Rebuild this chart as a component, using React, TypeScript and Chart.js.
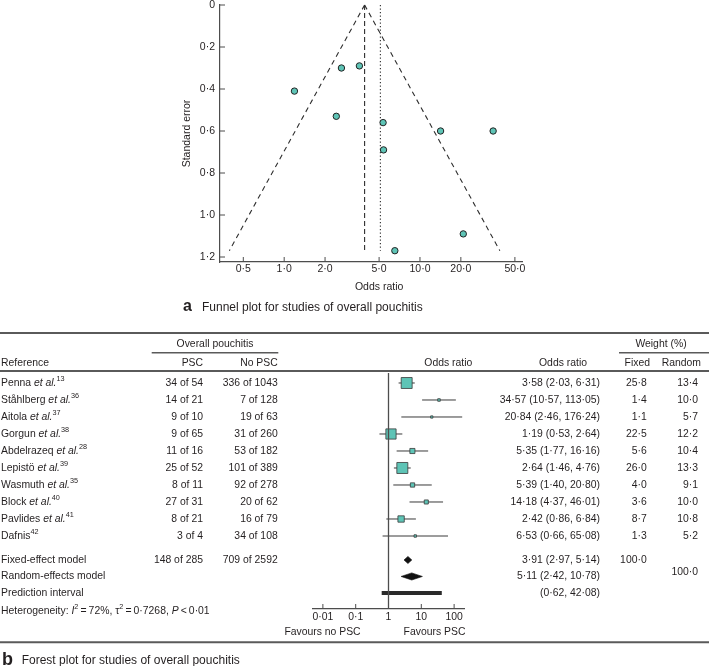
import React, { useEffect, useRef } from 'react';
import { Chart, registerables } from 'chart.js';

Chart.register(...registerables);

const FONT = '"Liberation Sans", Arial, Helvetica, sans-serif';
const TEXT = '#231f20';
const LINE = '#4d4d4d';
const TEAL = '#5ec4b6';
const FS = 10.4;

// ---------- data ----------
const studyAuthors = ['Penna', 'Ståhlberg', 'Aitola', 'Gorgun', 'Abdelrazeq', 'Lepistö', 'Wasmuth', 'Block', 'Pavlides', 'Dafnis'];
const studyHasEtAl = [true, true, true, true, true, true, true, true, true, false];
const studyRefs = ['13', '36', '37', '38', '28', '39', '35', '40', '41', '42'];
const pscEvents = [34, 14, 9, 9, 11, 25, 8, 27, 8, 3];
const pscTotal = [54, 21, 10, 65, 16, 52, 11, 31, 21, 4];
const noPscEvents = [336, 7, 19, 31, 53, 101, 92, 20, 16, 34];
const noPscTotal = [1043, 128, 63, 260, 182, 389, 278, 62, 79, 108];
const oddsRatio = [3.58, 34.57, 20.84, 1.19, 5.35, 2.64, 5.39, 14.18, 2.42, 6.53];
const ciLower = [2.03, 10.57, 2.46, 0.53, 1.77, 1.46, 1.40, 4.37, 0.86, 0.66];
const ciUpper = [6.31, 113.05, 176.24, 2.64, 16.16, 4.76, 20.80, 46.01, 6.84, 65.08];
const weightFixed = [25.8, 1.4, 1.1, 22.5, 5.6, 26.0, 4.0, 3.6, 8.7, 1.3];
const weightRandom = [13.4, 10.0, 5.7, 12.2, 10.4, 13.3, 9.1, 10.0, 10.8, 5.2];
const standardError = [0.29, 0.60, 1.09, 0.41, 0.56, 0.30, 0.69, 0.60, 0.53, 1.17];

const fixedEffect = [3.91, 2.97, 5.14];
const randomEffect = [5.11, 2.42, 10.78];
const predictionInterval = [0.62, 42.08];
const totalPsc = [148, 285];
const totalNoPsc = [709, 2592];
const heterogeneityI2 = 72;
const heterogeneityTau2 = 0.7268;

const funnelXTicks = [0.5, 1, 2, 5, 10, 20, 50];
const funnelYTicks = [0, 0.2, 0.4, 0.6, 0.8, 1.0, 1.2];
const forestXTicks = [0.01, 0.1, 1, 10, 100];

// ---------- helpers ----------
const fmt = (v: number, d: number) => v.toFixed(d).replace('.', '\u00b7');
const Z = 1.96;

type Part = { t: string; i?: boolean; sup?: boolean; b?: boolean };
function drawRich(ctx: CanvasRenderingContext2D, x: number, y: number, parts: Part[], size: number, align = 'left') {
  const fontFor = (p: Part) => `${p.i ? 'italic ' : ''}${p.b ? 'bold ' : ''}${p.sup ? size * 0.7 : size}px ${FONT}`;
  let w = 0;
  parts.forEach((p) => { ctx.font = fontFor(p); w += ctx.measureText(p.t).width; });
  let cx = align === 'right' ? x - w : align === 'center' ? x - w / 2 : x;
  ctx.textAlign = 'left';
  ctx.textBaseline = 'middle';
  parts.forEach((p) => {
    ctx.font = fontFor(p);
    ctx.fillText(p.t, cx, p.sup ? y - size * 0.36 : y);
    cx += ctx.measureText(p.t).width;
  });
}
function txt(ctx: CanvasRenderingContext2D, s: string, x: number, y: number, align: CanvasTextAlign, size = FS) {
  ctx.font = `${size}px ${FONT}`;
  ctx.textAlign = align;
  ctx.textBaseline = 'middle';
  ctx.fillText(s, x, y);
}
function hline(ctx: CanvasRenderingContext2D, x1: number, x2: number, y: number, w: number) {
  ctx.lineWidth = w;
  ctx.beginPath();
  ctx.moveTo(x1, y);
  ctx.lineTo(x2, y);
  ctx.stroke();
}

// ---------- funnel plot ----------
const funnelXLabel = (v: number) => fmt(v, 1);
const funnelYLabel = (v: number) => (v === 0 ? '0' : fmt(v, 1));

const funnelDecor = {
  id: 'funnelDecor',
  afterDraw(chart: any) {
    const { ctx, chartArea: a, scales: { x, y } } = chart;
    ctx.save();
    ctx.strokeStyle = LINE;
    ctx.lineWidth = 1;
    ctx.beginPath();
    funnelXTicks.forEach((v) => {
      const px = x.getPixelForValue(v);
      ctx.moveTo(px, a.bottom);
      ctx.lineTo(px, a.bottom - 5);
    });
    funnelYTicks.forEach((v) => {
      const py = y.getPixelForValue(v);
      ctx.moveTo(a.left, py);
      ctx.lineTo(a.left + 5, py);
    });
    ctx.stroke();
    ctx.fillStyle = TEXT;
    funnelXTicks.forEach((v) => txt(ctx, funnelXLabel(v), x.getPixelForValue(v), a.bottom + 7.5, 'center', 10.5));
    funnelYTicks.forEach((v) => txt(ctx, funnelYLabel(v), a.left - 5, y.getPixelForValue(v), 'right', 10.5));
    const cx = (x.getPixelForValue(funnelXTicks[0]) + x.getPixelForValue(funnelXTicks[funnelXTicks.length - 1])) / 2;
    txt(ctx, 'Odds ratio', cx, 287, 'center', 10.5);
    ctx.textAlign = 'left';
    ctx.textBaseline = 'alphabetic';
    ctx.font = `bold 16px ${FONT}`;
    ctx.fillText('a', 183, 310.5);
    ctx.font = `12px ${FONT}`;
    ctx.fillText('Funnel plot for studies of overall pouchitis', 202, 310.5);
    ctx.restore();
  },
};

function funnelConfig(): any {
  const seMax = Math.max(...standardError);
  const est = fixedEffect[0];
  const lineDs = (data: any[], dash: number[]) => ({
    data, showLine: true, pointRadius: 0, borderColor: '#2e2e2e', borderWidth: 1.1, borderDash: dash, fill: false, clip: false,
  });
  return {
    type: 'scatter',
    data: {
      datasets: [
        {
          data: oddsRatio.map((v, i) => ({ x: v, y: standardError[i] })),
          pointRadius: 3.2, backgroundColor: TEAL, borderColor: '#222', borderWidth: 1, clip: false,
        },
        lineDs([{ x: est, y: 0 }, { x: est * Math.exp(-Z * seMax), y: seMax }], [5, 4]),
        lineDs([{ x: est, y: 0 }, { x: est * Math.exp(Z * seMax), y: seMax }], [5, 4]),
        lineDs([{ x: est, y: 0 }, { x: est, y: seMax }], [5, 3]),
        lineDs([{ x: randomEffect[0], y: 0 }, { x: randomEffect[0], y: seMax }], [1.3, 2.2]),
      ],
    },
    options: {
      animation: false,
      responsive: false,
      maintainAspectRatio: false,
      layout: { autoPadding: false, padding: { left: 170, right: 187, top: 5, bottom: 0 } },
      plugins: { legend: { display: false }, tooltip: { enabled: false } },
      scales: {
        x: {
          type: 'logarithmic',
          bounds: 'data',
          min: 0.3368,
          max: 56.4,
          afterBuildTicks: (s: any) => { s.ticks = funnelXTicks.map((v) => ({ value: v })); },
          afterFit: (s: any) => { s.height = 56; },
          ticks: { display: false, autoSkip: false, maxRotation: 0 },
          grid: { display: false, drawTicks: false },
          border: { display: true, color: LINE, width: 1.2 },
        },
        y: {
          type: 'linear',
          bounds: 'data',
          reverse: true,
          min: 0,
          max: 1.2238,
          afterBuildTicks: (s: any) => { s.ticks = funnelYTicks.map((v) => ({ value: v })); },
          afterFit: (s: any) => { s.width = 50; },
          ticks: { display: false },
          grid: { display: false, drawTicks: false },
          border: { display: true, color: LINE, width: 1.2 },
          title: {
            display: true, text: 'Standard error', color: TEXT,
            font: { family: FONT, size: 10.5 }, padding: { top: 11, bottom: 0 },
          },
        },
      },
    },
    plugins: [funnelDecor],
  };
}

// ---------- forest plot ----------
// layout rows (y-scale units: one study row each)
const ROW_FIXED = 10.41;
const ROW_RANDOM = 11.38;
const ROW_PRED = 12.35;
const ROW_HET = 13.41;
const DIAMOND_H = 0.21;

const forestDecor = {
  id: 'forestDecor',
  afterDraw(chart: any) {
    const { ctx, chartArea: a, scales: { x, y } } = chart;
    const Y = (r: number) => y.getPixelForValue(r);
    const W = chart.width;
    ctx.save();
    // rules
    ctx.strokeStyle = '#5a5a5a';
    hline(ctx, 0, W, 13, 2);
    hline(ctx, 151.7, 278.3, 32.7, 1.4);
    hline(ctx, 619, W, 32.7, 1.4);
    hline(ctx, 0, W, 51, 2);
    hline(ctx, 0, W, 322.3, 2);
    // null line
    ctx.strokeStyle = LINE;
    ctx.lineWidth = 1.3;
    const x1 = x.getPixelForValue(1);
    ctx.beginPath();
    ctx.moveTo(x1, a.top);
    ctx.lineTo(x1, a.bottom);
    ctx.stroke();
    // inward ticks
    ctx.lineWidth = 1;
    ctx.beginPath();
    forestXTicks.forEach((v) => {
      const px = x.getPixelForValue(v);
      ctx.moveTo(px, a.bottom);
      ctx.lineTo(px, a.bottom - 5);
    });
    ctx.stroke();

    ctx.fillStyle = TEXT;
    // headers
    txt(ctx, 'Overall pouchitis', 215, 24, 'center');
    txt(ctx, 'Weight (%)', 661, 24, 'center');
    const hy = 42.7;
    txt(ctx, 'Reference', 1, hy, 'left');
    txt(ctx, 'PSC', 203, hy, 'right');
    txt(ctx, 'No PSC', 277.7, hy, 'right');
    txt(ctx, 'Odds ratio', 448.3, hy, 'center');
    txt(ctx, 'Odds ratio', 563, hy, 'center');
    txt(ctx, 'Fixed', 650, hy, 'right');
    txt(ctx, 'Random', 701, hy, 'right');

    // study rows
    studyAuthors.forEach((name, i) => {
      const ry = Y(i);
      const parts: Part[] = studyHasEtAl[i]
        ? [{ t: name + ' ' }, { t: 'et al.', i: true }, { t: studyRefs[i], sup: true }]
        : [{ t: name }, { t: studyRefs[i], sup: true }];
      drawRich(ctx, 1, ry, parts, FS);
      txt(ctx, `${pscEvents[i]} of ${pscTotal[i]}`, 203, ry, 'right');
      txt(ctx, `${noPscEvents[i]} of ${noPscTotal[i]}`, 277.7, ry, 'right');
      txt(ctx, `${fmt(oddsRatio[i], 2)} (${fmt(ciLower[i], 2)}, ${fmt(ciUpper[i], 2)})`, 600, ry, 'right');
      txt(ctx, fmt(weightFixed[i], 1), 646.7, ry, 'right');
      txt(ctx, fmt(weightRandom[i], 1), 698, ry, 'right');
    });

    // summary rows
    const fy = Y(ROW_FIXED);
    txt(ctx, 'Fixed-effect model', 1, fy, 'left');
    txt(ctx, `${totalPsc[0]} of ${totalPsc[1]}`, 203, fy, 'right');
    txt(ctx, `${totalNoPsc[0]} of ${totalNoPsc[1]}`, 277.7, fy, 'right');
    txt(ctx, `${fmt(fixedEffect[0], 2)} (${fmt(fixedEffect[1], 2)}, ${fmt(fixedEffect[2], 2)})`, 600, fy, 'right');
    txt(ctx, fmt(100, 1), 646.7, fy, 'right');
    const ry2 = Y(ROW_RANDOM);
    txt(ctx, 'Random-effects model', 1, ry2, 'left');
    txt(ctx, `${fmt(randomEffect[0], 2)} (${fmt(randomEffect[1], 2)}, ${fmt(randomEffect[2], 2)})`, 600, ry2, 'right');
    txt(ctx, fmt(100, 1), 698, ry2 - 4.5, 'right');
    const py = Y(ROW_PRED);
    txt(ctx, 'Prediction interval', 1, py, 'left');
    txt(ctx, `(${fmt(predictionInterval[0], 2)}, ${fmt(predictionInterval[1], 2)})`, 600, py, 'right');
    drawRich(ctx, 1, Y(ROW_HET), [
      { t: 'Heterogeneity: ' }, { t: 'I', i: true }, { t: '2', sup: true },
      { t: `\u2009=\u2009${heterogeneityI2}%, \u03c4` }, { t: '2', sup: true },
      { t: `\u2009=\u2009${fmt(heterogeneityTau2, 4)}, ` }, { t: 'P', i: true }, { t: '\u2009<\u20090\u00b701' },
    ], FS);

    // favours labels
    txt(ctx, 'Favours no PSC', 322.5, 311.7, 'center');
    txt(ctx, 'Favours PSC', 434.5, 311.7, 'center');

    // caption
    ctx.textAlign = 'left';
    ctx.textBaseline = 'alphabetic';
    ctx.font = `bold 18px ${FONT}`;
    ctx.fillText('b', 2, 345);
    ctx.font = `12px ${FONT}`;
    ctx.fillText('Forest plot for studies of overall pouchitis', 21.7, 343.5);
    ctx.restore();
  },
};

function forestConfig(): any {
  const diamond = (e: number[], r: number) => ({
    data: [
      { x: e[1], y: r }, { x: e[0], y: r - DIAMOND_H }, { x: e[2], y: r }, { x: e[0], y: r + DIAMOND_H }, { x: e[1], y: r },
    ],
    showLine: true, pointRadius: 0, borderColor: '#111', borderWidth: 0.6, backgroundColor: '#111', fill: 'shape', clip: false,
  });
  const ciSets = oddsRatio.map((_, i) => ({
    data: [{ x: ciLower[i], y: i }, { x: ciUpper[i], y: i }],
    showLine: true, pointRadius: 0, borderColor: '#3a3a3a', borderWidth: 1, fill: false, clip: false,
  }));
  return {
    type: 'scatter',
    data: {
      datasets: [
        {
          data: oddsRatio.map((v, i) => ({ x: v, y: i })),
          pointStyle: 'rect',
          pointRadius: weightFixed.map((w) => (11 * Math.sqrt(w / 26)) / Math.SQRT2),
          backgroundColor: TEAL, borderColor: '#3a3a3a', borderWidth: 0.8, clip: false,
        },
        diamond(fixedEffect, ROW_FIXED),
        diamond(randomEffect, ROW_RANDOM),
        {
          data: [{ x: predictionInterval[0], y: ROW_PRED }, { x: predictionInterval[1], y: ROW_PRED }],
          showLine: true, pointRadius: 0, borderColor: '#2a2a2a', borderWidth: 4, fill: false, clip: false,
        },
        ...ciSets,
      ],
    },
    options: {
      animation: false,
      responsive: false,
      maintainAspectRatio: false,
      layout: { autoPadding: false, padding: { left: 313, right: 245, top: 53, bottom: 0 } },
      plugins: { legend: { display: false }, tooltip: { enabled: false } },
      scales: {
        x: {
          type: 'logarithmic',
          bounds: 'data',
          min: 0.005,
          max: 200,
          afterBuildTicks: (s: any) => { s.ticks = forestXTicks.map((v) => ({ value: v })); },
          afterFit: (s: any) => { s.height = 57; },
          ticks: {
            autoSkip: false, maxRotation: 0, padding: 2, color: TEXT,
            font: { family: FONT, size: FS },
            callback: (v: number) => String(Number(v)).replace('.', '\u00b7'),
          },
          grid: { display: false, drawTicks: false },
          border: { display: true, color: LINE, width: 1.2 },
        },
        y: {
          type: 'linear',
          display: false,
          reverse: true,
          min: -0.588,
          max: 13.294,
        },
      },
    },
    plugins: [forestDecor],
  };
}

export default function App() {
  const funnelRef = useRef<HTMLCanvasElement>(null);
  const forestRef = useRef<HTMLCanvasElement>(null);
  useEffect(() => {
    const c1 = new Chart(funnelRef.current as HTMLCanvasElement, funnelConfig());
    const c2 = new Chart(forestRef.current as HTMLCanvasElement, forestConfig());
    return () => { c1.destroy(); c2.destroy(); };
  }, []);
  return (
    <div style={{ position: 'absolute', left: 0, top: 0, width: 709, height: 666, background: '#fff' }}>
      <canvas ref={funnelRef} width={709} height={318} style={{ position: 'absolute', left: 0, top: 0, display: 'block' }} />
      <canvas ref={forestRef} width={709} height={346} style={{ position: 'absolute', left: 0, top: 320, display: 'block' }} />
    </div>
  );
}
